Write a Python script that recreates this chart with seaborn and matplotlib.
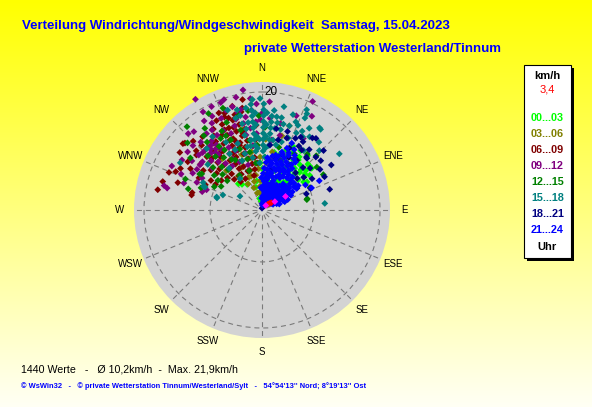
import numpy as np
import pandas as pd
import matplotlib
matplotlib.use("Agg")
import matplotlib.pyplot as plt
import seaborn as sns
from matplotlib.patches import Rectangle

sns.set_style("white")
plt.rcParams["font.family"] = ["Liberation Sans", "DejaVu Sans"]

# ---------------- data (direction in degrees, speed in km/h) ----------------
time_labels = ["00...03", "03...06", "06...09", "09...12", "12...15", "15...18", "18...21", "21...24"]
time_colors = ["#00FF00", "#808000", "#800000", "#800080", "#008000", "#008080", "#000080", "#0000FF"]

pts_00_03 = [(355,3),(358,4),(2,5),(5,2),(8,3),(10,4),(12,5),(15,6),(18,7),(20,8),(22,9),(25,10),(28,8),(30,9),
             (32,10),(35,11),(38,9),(40,10),(42,8),(45,9),(48,10),(50,8),(52,9),(55,7),(58,9),(45,11),(40,12),
             (35,8),(30,7),(25,6),(20,5),(15,3),(10,8),(12,10),(18,10),(22,11),(28,11),(48,6),(42,5),(50,11),
             (54,10),(0,7),(358,8),(3,9),(6,6),(26,12),(33,12),(44,7),(38,6),(16,9),(348,2),(352,3),(345,4),
             (350,5),(0,2),(355,1.5),(318,6),(322,5.5),(326,6.5),(330,5),(36,10.5),(44,9.5),(50,9.5),(56,8.5),
             (47,11),(27,5.5),(33,5.6),(41,6.4)]
pts_03_06 = [(340,4),(345,5),(350,6),(355,7),(352,8),(348,9),(343,7),(338,6),(335,8),(330,9),(325,7),(332,5),
             (355,4),(0,5),(5,6),(358,9),(350,10),(345,11),(340,10),(335,11),(328,10),(322,11),(318,9),(345,3),
             (352,3),(0,3),(8,4),(355,11),(3,12),(10,10),(18,15),(15,13),(320,13),(312,12),(338,13),(346,14),
             (325,12.5),(333,8),(342,6),(357,5),(5,8),(12,9)]
pts_06_09 = [(281,18),(305,17),(350,19),(311,17.3),(284,12.2),(307,13),(316,12.2),(322,11.5),(332,14.4),
             (340,16.6),(309,9.9),(341,11.6),(333,10.8),(356,14.4),(346,13.4),(310,17.5),(282,12.2),(294,16),
             (300,14),(288,15),(335,16),(335,15),(335,14),(335,13),(335,12),(338,17),(338,15),(338,13),(338,11),
             (342,16),(342,14),(342,12),(342,10),(345,15),(345,13),(345,11),(345,9),(348,17),(348,14),(348,12),
             (348,8),(330,13),(330,11),(330,9),(330,7),(327,15),(327,12),(327,10),(324,14),(324,12),(324,9),
             (320,13),(320,10),(320,8),(317,15),(317,11),(314,13),(314,10),(312,15),(308,11),(304,12),(300,10),
             (297,12),(352,11),(352,9),(355,12),(355,8),(350,7),(340,7),(332,6),(326,7),(318,7),(339,17.6),
             (349,17.6),(344,18.3),(326,14),(329,16),(333,17),(336,18),(321,16),(315,16.5),(310,14.5),(303,15),
             (297,15.5),(292,17),(286,17.5),(334,10),(337,8),(343,7),(347,6),(331,8),(323,6),(313,8),(306,8.5),
             (299,9),(294,10.5),(339,12.5),(341,14.8),(344,16.8)]
pts_09_12 = [(351,20.6),(344,18.2),(25,20.3),(329,21.9),(339,19.5),(329,19.4),(319,17.6),(311,14.2),(298,13.3),
             (284,17.1),(287,10.6),(329,14.8),(4,18.4),(0,16.4),(359,15.3),(290,10),(348,17.4),(302,16),(293,12),
             (283,16.5),(318,13),(319,14),(320,13.5),(321,12.5),(322,14),(323,13),(324,14.5),(325,13.5),(320,12),
             (317,14),(322,12),(326,12.5),(328,16),(330,17),(332,18),(334,15),(336,17),(338,14),(340,18),(342,15),
             (344,16),(346,17),(348,15),(350,16),(352,14),(354,17),(356,15),(332,12),(336,11),(340,12),(344,10),
             (348,13),(352,11),(356,13),(330,10),(326,9),(322,10),(318,11),(314,12),(310,11),(306,13),(302,13),
             (335,9),(343,8),(313,16),(308,16),(316,18),(12,15),(20,17),(30,14),(8,12),(28,18),(5,15.6),(13.5,13),
             (324,16),(327,18),(334,19.5),(341,19.8),(347,19.6),(354,19),(357,18),(318,15.5),(314,14),(309,13),
             (305,14.5),(298,11.5),(294,15),(289,14),(296,17)]
pts_12_15 = [(331,18.7),(325,16.9),(317,10),(320,8.9),(301,11.9),(310,7.7),(332,9.6),(321,14.8),(77,7.8),
             (52,11.8),(300,12.2),(76,7.9),(39,12.2),(336,13),(340,11),(344,9),(328,12),(324,11),(315,13),
             (312,9),(306,10),(296,9),(292,14),(345,14),(350,12),(348,10),(353,8),(356,11),(338,16),(334,14),
             (342,7),(327,7),(306,15),(312,17),(318,19),(286,13),(358,16),(2,14),(15,11),(45,13),(60,12),(65,9),
             (30,11),(20,9),(300,8),(290,11),(338,9),(330,14),(333,15),(329,10),(326,13),(322,16),(319,12),
             (311,11),(304,9),(346,16.5),(352,17),(339,18.5)]
pts_15_18 = [(354,10),(354,11),(354,12),(354,13),(354,14),(354,15),(354,16),(354,17),(354,18),(355,18.8),
             (1,10),(1,11),(1,12),(1,13),(1,14),(1,15),(1,16),(1,17),(1,18),(359,18.9),
             (6,11),(6,12),(6,13),(6,14),(6,15),(6,16),(7,17),
             (347,11),(347,13),(347,15),(347,16.4),(346,17.5),(344,16.2),(341,17.9),(349,14),
             (12,17.9),(12,16),(13,14),(12,11.3),(24,18.6),(25,17.2),(23,15.6),(24,14.3),(25,18),(36,16.9),
             (35,17),(29,14.2),(54,16.2),(84,10.7),(18,17),(18,15),(20,13),(10,15),(16,12),(30,16),(40,15),
             (44,14),(35,12.3),
             (285,7.9),(292,10.4),(292,10.7),(286,8),(302,4.4),(336,11.2),(325,6.5),(291,7.1),(295,11),
             (310,12),(318,14),(326,15),(332,13),(300,16),
             (340,12),(343,10),(338,9),(330,11),(322,9),(350,9),(357,8),(3,9),(358,12),(350,11),
             (356,10.5),(356,12.5),(356,14.5),(356,16.5),(3,10.5),(3,12.5),(3,14.5),(3,16.5),(9,12),(9,14),
             (9,16),(351,12),(351,15),(351,17.5),(14,15),(21,16),(27,15),(33,14.8)]
pts_18_21 = [(57,14),(58,10),(35,14.9),(40,11.7),(45.5,12.8),(19,12.9),(25,13.4),(33.5,12.2),(41,11.6),
             (35,10.3),(24,11.5),(49,10.8),(13,12.2),(7,11.1),(0,0.3),(28,14),(50,13),(62,12),(66,9),(70,8),
             (30,12.5),(20,10),(15,9),(10,14),(38,13),(44,10),(52,9),(55,12),(18,14),(27,10),(32,9),(48,8),
             (12,7),(73,12),(58,7),(46,14.5),(37,15.2),(31,13.5),(42,8.5)]
pts_21_24 = [(358,2.0),(357,3.8),(359,5.5),
             (2,1.1),(3,2.4),(1,3.6),(4,4.9),(2,6.2),(3,7.1),
             (6,0.8),(5,1.9),(7,3.1),(5,4.3),(6,5.4),(7,6.9),(5,8.1),(6,8.9),
             (9,1.5),(8,2.7),(10,3.9),(9,5.2),(8,6.1),(10,7.6),(9,8.5),
             (12,1.0),(11,2.1),(13,3.3),(12,4.5),(11,5.7),(13,6.6),(12,8.1),(11,9.3),
             (15,1.4),(14,2.5),(16,3.9),(14,6.4),(16,7.4),(15,8.8),(14,9.6),
             (18,1.1),(17,2.3),(19,3.5),(18,4.6),(17,5.9),(19,7.1),(18,8.2),(17,9.5),(19,10.4),
             (21,1.7),(20,2.9),(22,4.1),(21,5.3),(22,7.7),(21,8.8),(20,10.1),(22,11.3),
             (24,1.2),(23,2.5),(25,3.6),(24,4.8),(23,6.1),(25,7.3),(24,8.4),(23,9.6),(25,10.7),(24,12.4),
             (27,1.9),(26,3.0),(28,4.3),(26,6.6),(28,7.8),(27,9.1),(26,10.3),(28,11.6),
             (30,1.3),(29,2.6),(31,3.8),(30,4.9),(29,6.2),(31,7.4),(30,8.6),(31,10.8),
             (33,2.0),(32,3.1),(34,4.4),(32,6.7),(34,8.0),(33,9.2),(32,10.2),
             (36,1.4),(35,2.7),(37,3.9),(36,5.0),(37,7.5),(36,8.7),(35,9.9),
             (39,2.1),(38,3.3),(40,4.4),(39,5.7),(38,6.9),
             (42,1.6),(41,2.8),(43,3.9),(42,5.2),(43,7.6),
             (45,2.2),(44,3.4),(46,4.6),(45,5.7),(44,7.0),
             (48,1.7),(47,2.9),(49,4.1),(48,5.3),(47,6.5),
             (51,2.3),(50,3.5),(52,4.7),(51,5.9),(50,7.1),
             (55,1.9),(54,3.1),(56,4.3),(55,5.5),(54,6.7),(56,7.4),
             (59,2.5),(58,3.7),(60,4.9),(59,6.0),(58,6.9),
             (63,2.1),(62,3.3),(64,4.5),(63,5.5),(67,2.7),(66,3.9),(68,4.7),(71,3.1),(70,4.1),
             (63,10.9),(66,9.2),(60,8.5)]
pts_red = [(45,1.4),(52,2.0),(48,1.7)]
pts_magenta = [(60,4.6),(57,2.6),(40,1.0)]

dir_labels = ["N", "NNE", "NE", "ENE", "E", "ESE", "SE", "SSE",
              "S", "SSW", "SW", "WSW", "W", "WNW", "NW", "NNW"]
ring_values = [8.8, 20]
current_speed = "3,4"
summary_text = "1440 Werte   -   Ø 10,2km/h  -  Max. 21,9km/h"
footer_text = "© WsWin32   -   © private Wetterstation Tinnum/Westerland/Sylt   -   54°54'13'' Nord; 8°19'13'' Ost"
title1 = "Verteilung Windrichtung/Windgeschwindigkeit  Samstag, 15.04.2023"
title2 = "private Wetterstation Westerland/Tinnum"

groups = [pts_00_03, pts_03_06, pts_06_09, pts_09_12, pts_12_15, pts_15_18, pts_18_21, pts_21_24,
          pts_red, pts_magenta]
names = time_labels + ["rot", "magenta"]
palette = dict(zip(names, time_colors + ["#FF0000", "#FF00FF"]))

rows = []
for nm, g in zip(names, groups):
    for d, v in g:
        rows.append((nm, np.deg2rad(d), v))
df = pd.DataFrame(rows, columns=["zeit", "theta", "v"])

# ---------------- figure ----------------
W, H = 592, 407
fig = plt.figure(figsize=(W / 100, H / 100), dpi=100)
fx = lambda x: x / W
fy = lambda y: 1 - y / H

bg = fig.add_axes([0, 0, 1, 1], zorder=-10)
grad = np.linspace(0, 1, 256)
img = np.zeros((256, 1, 3))
img[:, 0, 0] = 1
img[:, 0, 1] = 1
img[:, 0, 2] = 0.96 * grad
bg.imshow(img, aspect="auto", extent=[0, 1, 0, 1], origin="upper")
bg.axis("off")

cx, cy, R = 262, 210, 128
rmax = 20 * R / 118
ax = fig.add_axes([fx(cx - R), fy(cy + R), 2 * R / W, 2 * R / H], projection="polar")
ax.set_theta_zero_location("N")
ax.set_theta_direction(-1)
ax.set_facecolor("#D3D3D3")
ax.spines["polar"].set_visible(False)
ax.set_axisbelow(True)
grid_kw = dict(color="#7a7a7a", lw=0.8, ls=(0, (4.5, 3.5)))
ax.set_xticks(np.deg2rad(np.arange(0, 360, 22.5)))
ax.set_xticklabels([])
ax.xaxis.grid(False)
ax.set_yticks(ring_values)
ax.set_yticklabels([])
ax.yaxis.grid(True, **grid_kw)
ax.tick_params(length=0, pad=0)
for a in np.deg2rad(np.arange(0, 360, 22.5)):
    ax.plot([a, a], [0.85, rmax], zorder=0.5, **grid_kw)

sns.scatterplot(data=df, x="theta", y="v", hue="zeit", hue_order=names, palette=palette,
                marker="D", s=12, linewidth=0, legend=False, ax=ax, clip_on=False, zorder=2)
ax.set_xlabel("")
ax.set_ylabel("")
ax.set_ylim(0, rmax)

for i, nm in enumerate(dir_labels):
    ax.text(np.deg2rad(i * 22.5), 142 / R * rmax, nm, ha="center", va="center",
            fontsize=7, color="black", clip_on=False)
ax.text(np.deg2rad(4.6), 20, "20", ha="center", va="center", fontsize=8.5, color="black", zorder=3)

# ---------------- texts ----------------
t1 = fig.text(fx(22), fy(26), title1, ha="left", va="center", fontsize=9, fontweight="bold", color="#0000FF")
t2 = fig.text(fx(243.5), fy(49), title2, ha="left", va="center", fontsize=9, fontweight="bold", color="#0000FF")
t3 = fig.text(fx(21), fy(369), summary_text, ha="left", va="center", fontsize=8, color="black")
t4 = fig.text(fx(21), fy(386), footer_text, ha="left", va="center", fontsize=6, fontweight="bold", color="#0000FF")

fig.canvas.draw()
rend = fig.canvas.get_renderer()
for t, wpx in [(t1, 429), (t2, 258.5), (t3, 216), (t4, 349)]:
    w = t.get_window_extent(rend).width
    t.set_fontsize(t.get_fontsize() * wpx / w)

# legend box
bx0, by0, bx1, by1 = 524, 65, 570.7, 257.7
fig.add_artist(Rectangle((fx(bx0 + 3), fy(by1 + 3)), (bx1 - bx0) / W, (by1 - by0) / H,
                         transform=fig.transFigure, facecolor="black", edgecolor="none", zorder=5))
fig.add_artist(Rectangle((fx(bx0), fy(by1)), (bx1 - bx0) / W, (by1 - by0) / H,
                         transform=fig.transFigure, facecolor="white", edgecolor="black", lw=0.8, zorder=6))
lx = 547.5
fig.text(fx(lx), fy(75.7), "km/h", ha="center", va="center", fontsize=8, fontweight="bold", color="black", zorder=7)
fig.text(fx(lx), fy(90), current_speed, ha="center", va="center", fontsize=8, color="#FF0000", zorder=7)
leg_y = [117.7, 134.3, 150.3, 166.3, 181.7, 197.7, 214, 230]
for lab, col, yy in zip(time_labels, time_colors, leg_y):
    fig.text(fx(lx), fy(yy), lab, ha="center", va="center", fontsize=7.8, fontweight="bold", color=col, zorder=7)
fig.text(fx(lx), fy(246.7), "Uhr", ha="center", va="center", fontsize=8, fontweight="bold", color="black", zorder=7)

fig.savefig("out.png", dpi=100)
